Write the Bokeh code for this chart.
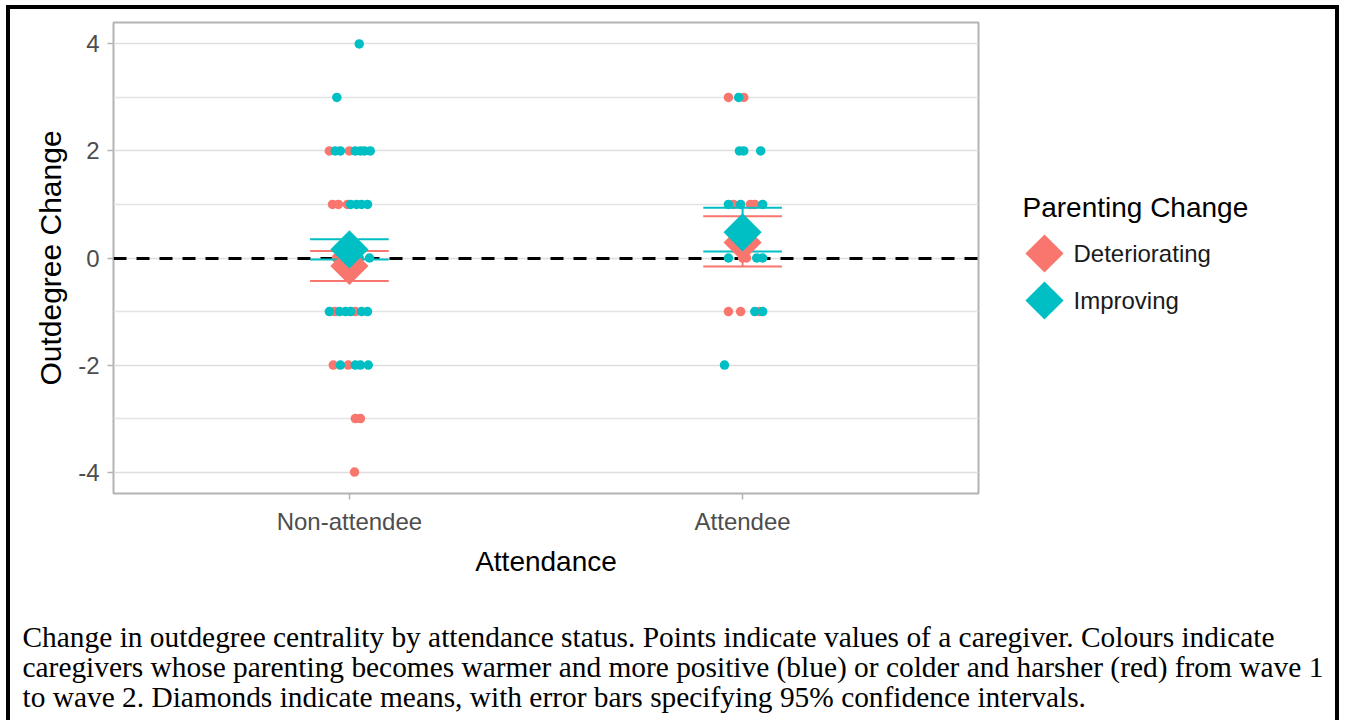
import math
from bokeh.plotting import figure
from bokeh.models import ColumnDataSource, FixedTicker, Range1d
from bokeh.layouts import row, column
from bokeh.embed import file_html
from bokeh.resources import INLINE
from bokeh.core.properties import value

# ---------------- data ----------------
categories = ["Non-attendee", "Attendee"]
cat_pos = [1, 2]
groups = ["Deteriorating", "Improving"]
colors = ["#F8766D", "#00BFC4"]

# individual caregivers: outdegree change and horizontal jitter
na_det_y = [2, 2, 1, 1, 1, 0, 0, -1, -1, -2, -2, -3, -3, -4]
na_det_jit = [-0.051, 0.000, -0.043, -0.028, -0.005, -0.033, 0.010, -0.038, 0.015,
              -0.041, -0.003, 0.015, 0.028, 0.013]
na_imp_y = [4, 3, 2, 2, 2, 2, 2, 2, 1, 1, 1, 1, 0, 0, 0, -1, -1, -1, -1, -1, -1,
            -2, -2, -2, -2]
na_imp_jit = [0.025, -0.032, -0.036, -0.023, 0.015, 0.028, 0.038, 0.053, 0.003, 0.018,
              0.031, 0.046, -0.013, 0.025, 0.051, -0.051, -0.025, -0.010, 0.003, 0.031,
              0.046, -0.023, 0.015, 0.028, 0.048]
at_det_y = [3, 3, 1, 1, 1, 0, 0, -1, -1, -1]
at_det_jit = [-0.036, 0.003, -0.023, 0.020, 0.031, 0.000, 0.010, -0.036, -0.005, 0.043]
at_imp_y = [3, 2, 2, 2, 1, 1, 1, 0, 0, 0, -1, -1, -2]
at_imp_jit = [-0.010, -0.008, 0.003, 0.046, -0.036, -0.005, 0.051, -0.036, 0.036, 0.051,
              0.031, 0.051, -0.046]

# means with 95% confidence intervals (Non-attendee, Attendee)
mean_det = [-0.15, 0.29]
lo_det = [-0.43, -0.16]
hi_det = [0.13, 0.78]
mean_imp = [0.16, 0.48]
lo_imp = [-0.03, 0.12]
hi_imp = [0.35, 0.94]

y_ticks = [-4, -2, 0, 2, 4]
y_minor = [-3, -1, 1, 3]
y_tick_labels = ["-4", "-2", "0", "2", "4"]

caption_lines = [
    "Change in outdegree centrality by attendance status. Points indicate values of a caregiver. Colours indicate",
    "caregivers whose parenting becomes warmer and more positive (blue) or colder and harsher (red) from wave 1",
    "to wave 2. Diamonds indicate means, with error bars specifying 95% confidence intervals.",
]

SANS = "Liberation Sans"
SERIF = "Liberation Serif"

# ---------------- main plot ----------------
p = figure(frame_width=865, frame_height=471,
           min_border_left=103, min_border_right=22, min_border_top=13, min_border_bottom=106,
           x_range=Range1d(0.4, 2.6), y_range=Range1d(-4.4, 4.4),
           output_backend="svg", toolbar_location=None, title=None)
p.background_fill_color = "white"
p.border_fill_color = "white"
p.outline_line_color = "#B3B3B3"
p.outline_line_width = 2

# grid
p.xgrid.grid_line_color = None
p.ygrid.grid_line_color = "#DEDEDE"
p.ygrid.grid_line_width = 1.5
p.ygrid.minor_grid_line_color = "#E4E4E4"
p.ygrid.minor_grid_line_width = 1.3

# axes
p.xaxis.ticker = FixedTicker(ticks=cat_pos)
p.xaxis.major_label_overrides = {pos: lab for pos, lab in zip(cat_pos, categories)}
p.yaxis.ticker = FixedTicker(ticks=y_ticks, minor_ticks=y_minor)
p.yaxis.major_label_overrides = {t: lab for t, lab in zip(y_ticks, y_tick_labels)}
for ax in (p.xaxis[0], p.yaxis[0]):
    ax.axis_line_color = None
    ax.major_tick_line_color = "#B3B3B3"
    ax.major_tick_line_width = 1.5
    ax.major_tick_out = 6
    ax.major_tick_in = 0
    ax.minor_tick_line_color = None
    ax.major_label_text_font = SANS
    ax.major_label_text_font_size = "24px"
    ax.major_label_text_color = "#4D4D4D"
    ax.major_label_standoff = 8
    ax.axis_label_text_font = SANS
    ax.axis_label_text_font_size = "28px"
    ax.axis_label_text_font_style = "normal"
    ax.axis_label_text_color = "black"
    ax.axis_label_standoff = 8
p.yaxis.axis_label_text_font_size = "30px"
p.xaxis.axis_label = "Attendance"
p.yaxis.axis_label = "Outdegree Change"

# zero reference line
p.hspan(y=[0], line_color="black", line_width=3, line_dash="13 10")

# points
pt_sets = [
    (cat_pos[0], na_det_y, na_det_jit, colors[0]),
    (cat_pos[1], at_det_y, at_det_jit, colors[0]),
    (cat_pos[0], na_imp_y, na_imp_jit, colors[1]),
    (cat_pos[1], at_imp_y, at_imp_jit, colors[1]),
]
for base, ys, jits, col in pt_sets:
    src = ColumnDataSource(dict(x=[base + j for j in jits], y=ys))
    p.scatter("x", "y", source=src, size=9.5, fill_color=col, line_color=None)

# error bars
cap = 0.1
for means, lo, hi, col in [(mean_det, lo_det, hi_det, colors[0]),
                           (mean_imp, lo_imp, hi_imp, colors[1])]:
    src = ColumnDataSource(dict(x=cat_pos, lo=lo, hi=hi,
                                xl=[c - cap for c in cat_pos], xr=[c + cap for c in cat_pos]))
    p.segment(x0="x", y0="lo", x1="x", y1="hi", source=src, line_color=col, line_width=2)
    p.segment(x0="xl", y0="hi", x1="xr", y1="hi", source=src, line_color=col, line_width=2)
    p.segment(x0="xl", y0="lo", x1="xr", y1="lo", source=src, line_color=col, line_width=2)

# mean diamonds
for means, col in [(mean_det, colors[0]), (mean_imp, colors[1])]:
    src = ColumnDataSource(dict(x=cat_pos, y=means))
    p.scatter("x", "y", source=src, marker="square", angle=math.pi / 4, size=27,
              fill_color=col, line_color=None)

# ---------------- legend panel (frame aligned with the main plot frame) ----------------
lg = figure(frame_width=335, frame_height=471,
            min_border_left=0, min_border_right=0, min_border_top=13, min_border_bottom=106,
            x_range=Range1d(0, 335), y_range=Range1d(484, 13),
            x_axis_location=None, y_axis_location=None,
            output_backend="svg", toolbar_location=None, title=None)
lg.outline_line_color = None
lg.grid.visible = False
lg.text(x=[22], y=[198], text=["Parenting Change"], text_font=value(SANS),
        text_font_size="28px", text_baseline="middle", text_align="left", text_color="black")
lg_y = [244, 291]
lg.scatter(x=[44, 44], y=lg_y, marker="square", angle=math.pi / 4, size=27,
           fill_color=colors, line_color=None)
lg.text(x=[73, 73], y=lg_y, text=groups, text_font=value(SANS), text_font_size="24px",
        text_baseline="middle", text_align="left", text_color="#1A1A1A")

# ---------------- caption ----------------
cp = figure(width=1325, height=121, x_range=Range1d(0, 1325), y_range=Range1d(121, 0),
            x_axis_location=None, y_axis_location=None, min_border=0,
            output_backend="svg", toolbar_location=None, title=None)
cp.outline_line_color = None
cp.grid.visible = False
cp.text(x=[12, 12, 12], y=[37, 67, 97], text=caption_lines, text_font=value(SERIF),
        text_font_size="29.4px", text_baseline="middle", text_align="left", text_color="black")

layout = column(row(p, lg), cp,
                styles={"border-left": "4px solid black", "border-top": "4px solid black",
                        "border-right": "4px solid black", "margin-left": "6px",
                        "margin-top": "5px"})

open("out.html", "w").write(file_html(layout, INLINE))
